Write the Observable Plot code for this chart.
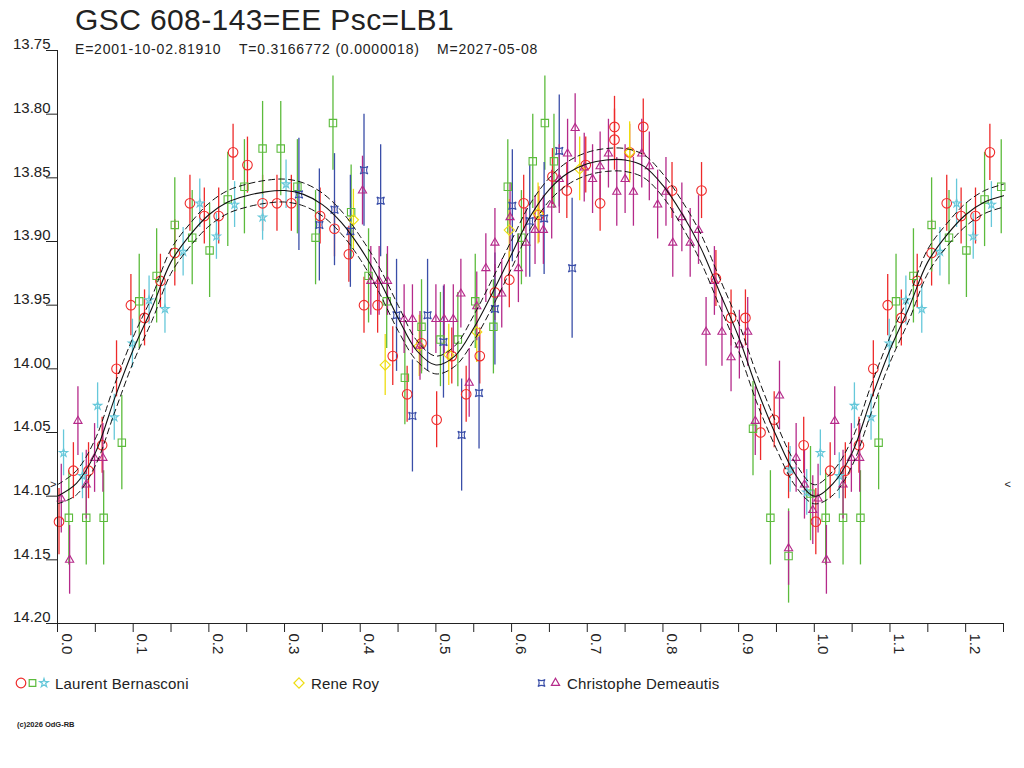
<!DOCTYPE html>
<html><head><meta charset="utf-8">
<script src="https://cdn.jsdelivr.net/npm/d3@7"></script>
<script src="https://cdn.jsdelivr.net/npm/@observablehq/plot@0.6"></script>
<style>
html,body{margin:0;padding:0;background:#fff;}
body{width:1024px;height:768px;position:relative;overflow:hidden;font-family:"Liberation Sans",Arial,sans-serif;color:#222;}
.abs{position:absolute;white-space:pre;}
#title{left:75px;top:5px;font-size:30px;line-height:30px;letter-spacing:0.4px;}
.sub{top:42px;font-size:14px;line-height:14px;letter-spacing:0.8px;}
.leg{top:676px;font-size:15px;line-height:15px;letter-spacing:0.2px;}
#copy{left:17px;top:721px;font-size:7.5px;line-height:7.5px;font-weight:bold;}
#chart{position:absolute;left:0;top:0;}
</style></head>
<body>
<div id="chart"></div>
<div class="abs" id="title">GSC 608-143=EE Psc=LB1</div>
<div class="abs sub" style="left:75px">E=2001-10-02.81910</div>
<div class="abs sub" style="left:239px">T=0.3166772 (0.0000018)</div>
<div class="abs sub" style="left:437px">M=2027-05-08</div>
<div class="abs leg" style="left:55px">Laurent Bernasconi</div>
<div class="abs leg" style="left:311px">Rene Roy</div>
<div class="abs leg" style="left:567px">Christophe Demeautis</div>
<div class="abs" id="copy">(c)2026 OdG-RB</div>
<script>
// ---- data: [phase, magnitude, error] ----
const bernRed = [
[0.002,14.120,0.026],[0.021,14.080,0.022],[0.041,14.080,0.022],[0.059,14.060,0.022],[0.078,14.000,0.022],
[0.097,13.950,0.024],[0.115,13.960,0.022],[0.136,13.931,0.021],[0.155,13.909,0.026],[0.175,13.870,0.022],
[0.194,13.880,0.022],[0.213,13.880,0.022],[0.232,13.830,0.022],[0.251,13.840,0.022],[0.271,13.870,0.022],
[0.290,13.870,0.022],[0.309,13.870,0.022],[0.347,13.880,0.022],[0.366,13.890,0.022],[0.385,13.910,0.022],
[0.405,13.950,0.022],[0.423,13.950,0.022],[0.443,13.990,0.023],[0.462,14.020,0.022],[0.481,13.980,0.022],
[0.501,14.040,0.022],[0.521,13.990,0.022],[0.540,14.020,0.022],[0.558,13.990,0.022],[0.578,13.940,0.022],
[0.597,13.930,0.022],[0.616,13.870,0.022],[0.636,13.879,0.022],[0.654,13.849,0.022],[0.673,13.860,0.022],
[0.698,13.840,0.022],[0.717,13.870,0.022],[0.736,13.810,0.024],[0.736,13.820,0.024],[0.756,13.830,0.022],
[0.774,13.810,0.022],[0.812,13.860,0.022],[0.851,13.860,0.022],[0.870,13.929,0.022],[0.890,13.960,0.022],
[0.909,13.960,0.022],[0.929,14.050,0.022],[0.947,14.040,0.022],[0.966,14.080,0.022],[0.986,14.060,0.022]
];
const bernGreen = [
[0.015,14.117,0.037],[0.038,14.117,0.037],[0.061,14.117,0.037],[0.085,14.058,0.037],[0.108,13.947,0.037],
[0.131,13.927,0.037],[0.155,13.887,0.037],[0.178,13.897,0.037],[0.201,13.907,0.037],[0.225,13.867,0.037],
[0.247,13.857,0.037],[0.271,13.827,0.037],[0.295,13.827,0.037],[0.317,13.857,0.037],[0.341,13.897,0.037],
[0.364,13.807,0.037],[0.388,13.877,0.037],[0.411,13.927,0.037],[0.435,13.947,0.037],[0.459,14.007,0.037],
[0.481,13.967,0.037],[0.506,13.977,0.037],[0.529,13.977,0.037],[0.552,13.947,0.037],[0.576,13.967,0.037],
[0.595,13.857,0.037],[0.613,13.897,0.037],[0.628,13.837,0.037],[0.644,13.807,0.037],[0.656,13.837,0.037],
[0.919,14.047,0.037],[0.942,14.117,0.037],[0.966,14.147,0.037],[0.995,14.098,0.037]
];
const bernCyan = [
[0.008,14.066,0.018],[0.033,14.084,0.018],[0.053,14.029,0.018],[0.075,14.038,0.018],[0.099,13.980,0.019],
[0.121,13.946,0.019],[0.142,13.953,0.019],[0.166,13.908,0.019],[0.188,13.870,0.019],[0.210,13.896,0.018],
[0.234,13.871,0.018],[0.271,13.881,0.018],[0.302,13.855,0.019],[0.968,14.079,0.018],[0.990,14.097,0.018]
];
const royYellow = [
[0.391,13.883,0.024],[0.433,13.997,0.024],[0.478,13.982,0.024],[0.517,13.989,0.024],[0.554,13.971,0.024],
[0.597,13.891,0.024],[0.635,13.878,0.024],[0.690,13.843,0.025],[0.756,13.830,0.024]
];
const demBlue = [
[0.319,13.863,0.044],[0.346,13.887,0.044],[0.366,13.875,0.044],[0.387,13.892,0.044],[0.405,13.844,0.044],
[0.427,13.868,0.044],[0.448,13.958,0.044],[0.469,14.037,0.044],[0.489,13.958,0.044],[0.510,13.979,0.044],
[0.534,14.052,0.044],[0.557,14.019,0.044],[0.578,13.953,0.044],[0.601,13.872,0.044],[0.624,13.884,0.044],
[0.643,13.882,0.044],[0.663,13.829,0.044],[0.680,13.921,0.055]
];
const demMagenta = [
[0.005,14.102,0.027],[0.016,14.150,0.027],[0.027,14.041,0.027],[0.038,14.091,0.027],[0.049,14.070,0.027],
[0.060,14.070,0.027],[0.403,13.860,0.027],[0.414,13.931,0.027],[0.425,13.931,0.027],[0.436,13.931,0.027],
[0.458,13.961,0.027],[0.469,13.961,0.027],[0.479,13.982,0.027],[0.500,13.961,0.027],[0.511,13.961,0.027],
[0.523,13.961,0.027],[0.533,13.941,0.027],[0.544,14.011,0.027],[0.554,13.951,0.027],[0.566,13.921,0.027],
[0.578,13.901,0.027],[0.587,13.941,0.027],[0.598,13.881,0.027],[0.609,13.921,0.027],[0.619,13.901,0.027],
[0.631,13.891,0.027],[0.642,13.891,0.027],[0.653,13.871,0.027],[0.663,13.851,0.027],[0.674,13.831,0.027],
[0.684,13.811,0.027],[0.696,13.842,0.027],[0.707,13.851,0.027],[0.717,13.841,0.027],[0.728,13.831,0.027],
[0.739,13.861,0.027],[0.750,13.851,0.027],[0.761,13.861,0.027],[0.772,13.831,0.027],[0.782,13.841,0.027],
[0.793,13.871,0.027],[0.804,13.861,0.027],[0.813,13.901,0.027],[0.825,13.881,0.027],[0.836,13.901,0.027],
[0.847,13.891,0.027],[0.857,13.971,0.027],[0.868,13.931,0.027],[0.878,13.971,0.027],[0.890,13.991,0.027],
[0.901,13.981,0.027],[0.912,13.971,0.027],[0.922,14.041,0.027],[0.954,14.021,0.027],[0.966,14.141,0.029],
[0.976,14.070,0.027],[0.987,14.091,0.027],[0.998,14.111,0.027]
];
// fitted light curve and its envelope
const fitPhase = [0,0.025,0.05,0.075,0.1,0.125,0.15,0.175,0.2,0.225,0.25,0.275,0.3,0.325,0.35,0.375,0.4,0.425,0.45,0.475,0.5,
  0.525,0.55,0.575,0.6,0.625,0.65,0.675,0.7,0.725,0.75,0.775,0.8,0.825,0.85,0.875,0.9,0.925,0.95,0.975,1.0];
const fitMag = [14.100,14.090,14.066,14.024,13.985,13.952,13.916,13.895,13.879,13.869,13.864,13.861,13.860,13.863,13.871,13.885,13.905,13.930,13.960,13.986,13.997,
  13.990,13.968,13.940,13.910,13.880,13.859,13.846,13.839,13.836,13.836,13.841,13.856,13.878,13.905,13.940,13.975,14.017,14.053,14.083,14.100];
const fitUpper = [14.091,14.080,14.055,14.013,13.975,13.943,13.906,13.886,13.870,13.860,13.855,13.852,13.851,13.854,13.862,13.876,13.896,13.920,13.950,13.978,13.990,
  13.982,13.958,13.929,13.899,13.870,13.850,13.837,13.830,13.827,13.827,13.832,13.847,13.868,13.894,13.929,13.964,14.006,14.043,14.074,14.091];
const fitLower = [14.106,14.099,14.076,14.035,13.995,13.962,13.925,13.904,13.888,13.878,13.873,13.870,13.869,13.872,13.880,13.894,13.914,13.940,13.970,13.994,14.004,
  13.998,13.978,13.951,13.921,13.890,13.868,13.855,13.848,13.845,13.845,13.850,13.865,13.888,13.916,13.951,13.986,14.028,14.063,14.092,14.106];
const minLevel = 14.091;
// axes
const yTicks = [13.75,13.80,13.85,13.90,13.95,14.00,14.05,14.10,14.15,14.20];
const xMinorTicks = [0,0.05,0.1,0.15,0.2,0.25,0.3,0.35,0.4,0.45,0.5,0.55,0.6,0.65,0.7,0.75,0.8,0.85,0.9,0.95,1.0,1.05,1.1,1.15,1.2,1.25];
const xLabels = [0,0.1,0.2,0.3,0.4,0.5,0.6,0.7,0.8,0.9,1.0,1.1,1.2];

// phase folding: repeat the first quarter cycle after phase 1
const fold = arr => arr.concat(arr.filter(d => d[0] < 0.25).map(d => [d[0] + 1, d[1], d[2]]));
const curvePts = mags => {
  const pts = fitPhase.map((p, i) => [p, mags[i]]);
  return pts.concat(pts.filter(d => d[0] > 0 && d[0] <= 0.25).map(d => [d[0] + 1, d[1]]));
};

const concaveSquare = {
  draw(ctx, size) {
    const s = Math.sqrt(size / Math.PI), c = 0.35 * s;
    ctx.moveTo(-s, -s);
    ctx.quadraticCurveTo(0, -c, s, -s);
    ctx.quadraticCurveTo(c, 0, s, s);
    ctx.quadraticCurveTo(0, c, -s, s);
    ctx.quadraticCurveTo(-c, 0, -s, -s);
    ctx.closePath();
  }
};

const series = [
  {pts: fold(bernRed), color: "#ee2a2a", symbol: "circle", r: 4.8},
  {pts: fold(bernGreen), color: "#5cbb3c", symbol: "square2", r: 4.7},
  {pts: fold(bernCyan), color: "#66c8da", symbol: "star", r: 2.6},
  {pts: fold(royYellow), color: "#eedd11", symbol: "diamond2", r: 4.6},
  {pts: fold(demBlue), color: "#3a4ea8", symbol: concaveSquare, r: 3.8},
  {pts: fold(demMagenta), color: "#b52a8a", symbol: "triangle2", r: 3.9}
];

const marks = [];
for (const s of series) {
  marks.push(Plot.ruleX(s.pts, {x: d => d[0], y1: d => d[1] - d[2], y2: d => d[1] + d[2], stroke: s.color, strokeWidth: 1.3}));
}
for (const s of series) {
  marks.push(Plot.dot(s.pts, {x: d => d[0], y: d => d[1], symbol: s.symbol, r: s.r, fill: "none", stroke: s.color, strokeWidth: 1.1}));
}
marks.push(Plot.line(curvePts(fitUpper), {x: d => d[0], y: d => d[1], curve: "catmull-rom", stroke: "#111", strokeWidth: 1, strokeDasharray: "6,4"}));
marks.push(Plot.line(curvePts(fitLower), {x: d => d[0], y: d => d[1], curve: "catmull-rom", stroke: "#111", strokeWidth: 1, strokeDasharray: "6,4"}));
marks.push(Plot.line(curvePts(fitMag), {x: d => d[0], y: d => d[1], curve: "catmull-rom", stroke: "#111", strokeWidth: 1.1}));
// axes
marks.push(Plot.ruleX([0], {stroke: "#222"}));
marks.push(Plot.ruleY([14.20], {stroke: "#222"}));
marks.push(Plot.axisY({ticks: yTicks, tickSize: 11, tickFormat: () => "", label: null, stroke: "#222"}));
marks.push(Plot.axisX({ticks: xMinorTicks, tickSize: 9, tickFormat: () => "", label: null, stroke: "#222"}));
marks.push(Plot.text(yTicks, {y: d => d, text: d => d.toFixed(2), frameAnchor: "left", textAnchor: "end", dx: -7, dy: -6, fill: "#222"}));
marks.push(Plot.text(xLabels, {x: d => d, text: d => d.toFixed(1), frameAnchor: "bottom", rotate: 90, textAnchor: "start", dy: 10, dx: 4, fill: "#222"}));
marks.push(Plot.text([minLevel], {y: d => d, text: () => ">", frameAnchor: "left", textAnchor: "end", dx: -1, fontSize: 11, fill: "#222"}));
marks.push(Plot.text([minLevel], {y: d => d, text: () => "<", frameAnchor: "right", textAnchor: "start", dx: 1, fontSize: 11, fill: "#222"}));

const chart = Plot.plot({
  width: 1024,
  height: 660,
  marginTop: 50,
  marginLeft: 57,
  marginRight: 21,
  marginBottom: 37,
  x: {domain: [0, 1.25]},
  y: {domain: [13.75, 14.20], reverse: true},
  style: {fontFamily: "'Liberation Sans', Arial, sans-serif", fontSize: "15px", color: "#222", background: "transparent", overflow: "visible"},
  marks
});
document.getElementById("chart").appendChild(chart);

// legend swatches
const legendItems = [
  {x: 21, color: "#ee2a2a", type: d3.symbolCircle, r: 4.8},
  {x: 32.5, color: "#5cbb3c", type: d3.symbolSquare2, r: 4.2},
  {x: 44, color: "#66c8da", type: d3.symbolStar, r: 2.7},
  {x: 299, color: "#eedd11", type: d3.symbolDiamond2, r: 4.6},
  {x: 541.5, color: "#3a4ea8", type: concaveSquare, r: 3.5},
  {x: 555.5, color: "#b52a8a", type: d3.symbolTriangle2, r: 3.9}
];
const leg = d3.select("body").append("svg")
  .attr("width", 1024).attr("height", 40)
  .style("position", "absolute").style("left", "0px").style("top", "663px");
leg.selectAll("path").data(legendItems).join("path")
  .attr("transform", d => `translate(${d.x},20)`)
  .attr("d", d => d3.symbol(d.type, Math.PI * d.r * d.r)())
  .attr("fill", "none").attr("stroke", d => d.color).attr("stroke-width", 1.2);
</script>
</body></html>
